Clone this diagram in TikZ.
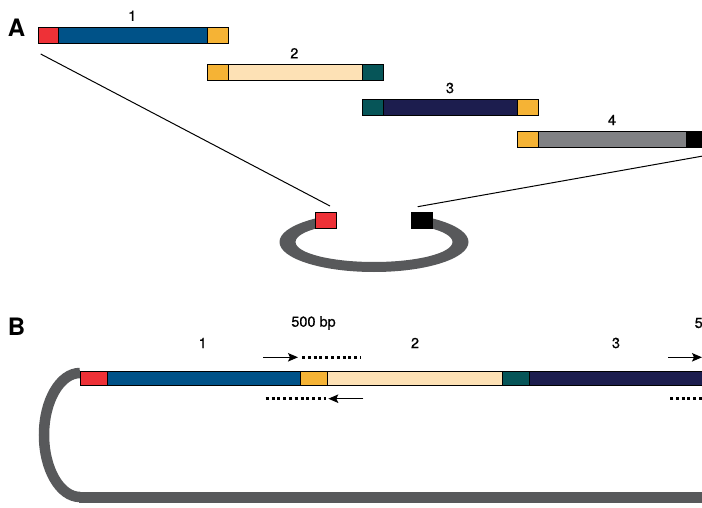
\documentclass[tikz,border=0pt]{standalone}
\usepackage{fontspec}
\setmainfont{TeX Gyre Heros}
\newfontfamily\lblfont[FakeBold=0.7]{TeX Gyre Heros}
\usetikzlibrary{arrows.meta}
\definecolor{cred}{HTML}{EE3137}
\definecolor{cblue}{HTML}{005288}
\definecolor{corange}{HTML}{F5B335}
\definecolor{cbeige}{HTML}{FDE1B5}
\definecolor{cteal}{HTML}{065558}
\definecolor{cnavy}{HTML}{1C1D4E}
\definecolor{cgray}{HTML}{808184}
\definecolor{cring}{HTML}{58595B}
\begin{document}
\begin{tikzpicture}[x=1pt,y=-1pt,
  seg/.style={draw=black,line width=0.8pt},
  lbl/.style={font=\lblfont\fontsize{14.5}{14.5}\selectfont, inner sep=0pt},
  panel/.style={font=\bfseries\fontsize{24}{24}\selectfont, inner sep=0pt},
  zoomline/.style={draw=black,line width=1pt},
  arr/.style={-{Stealth[length=10pt,width=8.5pt,inset=2pt]}, line width=1.2pt},
  dots/.style={line width=3pt, dash pattern=on 3pt off 2.8pt}]
\useasboundingbox (0,0) rectangle (702,508);

% ---------- Panel A ----------
\node[panel] (labA) at (16.5,27.3) {A};

% bar 1
\draw[seg,fill=cred]    (38.3,27.3) rectangle (58.7,43.3);
\draw[seg,fill=cblue]   (58.7,27.3) rectangle (207.3,43.3);
\draw[seg,fill=corange] (207.3,27.3) rectangle (228,43.3);
\node[lbl] (n1) at (132.3,15.8) {1};
% bar 2
\draw[seg,fill=corange] (207.3,64.7) rectangle (228,80.7);
\draw[seg,fill=cbeige]  (228,64.7) rectangle (362.7,80.7);
\draw[seg,fill=cteal]   (362.7,64.7) rectangle (383.3,80.7);
\node[lbl] (n2) at (294.3,53.3) {2};
% bar 3
\draw[seg,fill=cteal]   (362,99) rectangle (383,115.3);
\draw[seg,fill=cnavy]   (383,99) rectangle (517.7,115.3);
\draw[seg,fill=corange] (517.7,99) rectangle (538.7,115.3);
\node[lbl] (n3) at (450,88) {3};
% bar 4
\draw[seg,fill=corange] (517,131.5) rectangle (538.7,147.7);
\draw[seg,fill=cgray]   (538.7,131.5) rectangle (686.3,147.7);
\draw[seg,fill=black]   (686.3,131.5) rectangle (703,147.7);
\node[lbl] (n4) at (612,120) {4};

% ring
\begin{scope}
  \clip (260,190) -- (336,190) -- (336,240) -- (411,240) -- (411,190)
        -- (490,190) -- (490,290) -- (260,290) -- cycle;
  \fill[cring,even odd rule] (374,242) ellipse[x radius=94.5pt,y radius=30pt]
                             (374,242) ellipse[x radius=78.5pt,y radius=20pt];
\end{scope}
\draw[seg,fill=cred]  (315,212) rectangle (336.3,228.7);
\draw[seg,fill=black] (411,212) rectangle (432.3,228.7);

% zoom lines
\coordinate (p1) at (40.7,54);
\coordinate (p2) at (330,206);
\coordinate (p3) at (703,156);
\coordinate (p4) at (417.7,206.7);
\draw[zoomline] (p1) -- (p2);
\draw[zoomline] (p3) -- (p4);

% ---------- Panel B ----------
\node[panel] (labB) at (16.5,326.5) {B};

% backbone
\draw[cring,line width=10.5pt] (80,373) .. controls (60,373) and (44,401) .. (44,435)
      .. controls (44,469) and (60,497) .. (80,497);
\fill[cring] (79,491.5) rectangle (703,503);

% bar
\draw[seg,fill=cred]    (80.3,371.7) rectangle (107.3,385.7);
\draw[seg,fill=cblue]   (107.3,371.7) rectangle (300.7,385.7);
\draw[seg,fill=corange] (300.7,371.7) rectangle (327.7,385.7);
\draw[seg,fill=cbeige]  (327.7,371.7) rectangle (502.3,385.7);
\draw[seg,fill=cteal]   (502.3,371.7) rectangle (529.3,385.7);
\draw[seg,fill=cnavy]   (529.3,371.7) rectangle (703,385.7);

\node[lbl] (m1) at (202.7,343) {1};
\node[lbl] (m2) at (415,343) {2};
\node[lbl] (m3) at (616,343) {3};
\node[lbl] (bp) at (313.5,323) {500 bp};
\node[lbl,anchor=west] (bp2) at (694.5,323) {5};

% primers
\coordinate (a1s) at (263,357.3);
\coordinate (a1e) at (298,357.3);
\coordinate (d1s) at (302,357.3);
\coordinate (d1e) at (361,357.3);
\coordinate (d2s) at (265.7,398.7);
\coordinate (d2e) at (326,398.7);
\coordinate (a2s) at (363.3,398.7);
\coordinate (a2e) at (328.3,398.7);
\coordinate (a3s) at (668.3,357.3);
\coordinate (a3e) at (702,357.3);
\coordinate (d3s) at (670,398.7);
\coordinate (d3e) at (703,398.7);
\draw[arr] (a1s) -- (a1e);
\draw[dots] (d1s) -- (d1e);
\draw[dots] (d2s) -- (d2e);
\draw[arr] (a2s) -- (a2e);
\draw[arr] (a3s) -- (a3e);
\draw[dots] (d3s) -- (d3e);
\end{tikzpicture}
\end{document}
